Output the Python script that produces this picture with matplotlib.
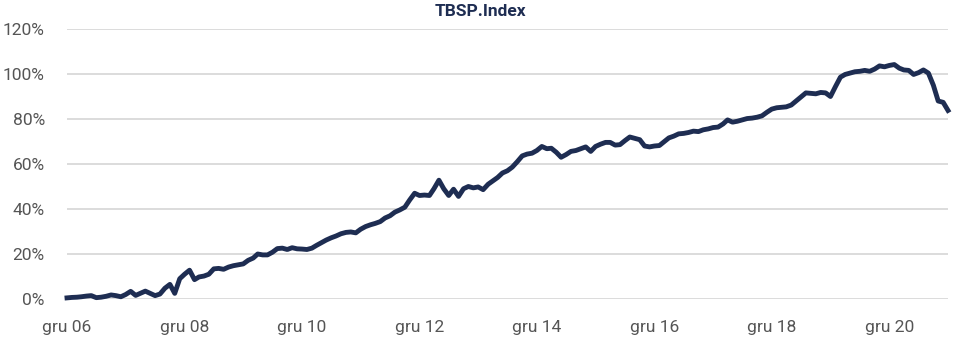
import matplotlib
matplotlib.use("Agg")
import matplotlib.pyplot as plt
import pandas as pd
import numpy as np

title = "TBSP.Index"
start_month = "2006-12-01"
values = [
    0.5, 0.7, 0.8, 1.0, 1.3, 1.5, 0.6, 0.8, 1.2, 1.8, 1.5,
    1.0, 2.0, 3.4, 1.6, 2.5, 3.5, 2.5, 1.5, 2.2, 4.8,
    6.5, 2.5, 9.0, 11.0, 12.8, 8.6, 9.8, 10.2, 11.0, 13.4,
    13.6, 13.2, 14.2, 14.8, 15.2, 15.6, 17.2, 18.2, 20.0, 19.6,
    19.6, 20.8, 22.4, 22.6, 22.0, 22.8, 22.3, 22.2, 22.0, 22.6,
    23.8, 25.0, 26.2, 27.2, 28.0, 29.0, 29.6, 29.8, 29.4, 31.0,
    32.2, 33.0, 33.6, 34.4, 36.0, 37.0, 38.6, 39.6, 40.8, 44.0,
    47.0, 46.0, 46.2, 46.0, 49.0, 52.8, 49.0, 46.0, 48.8, 45.6,
    49.0, 50.0, 49.4, 49.8, 48.6, 51.0, 52.4, 54.0, 56.0, 57.0,
    58.6, 61.0, 63.6, 64.4, 64.8, 66.0, 67.8, 66.8, 67.0, 65.2,
    63.0, 64.2, 65.6, 66.0, 66.8, 67.6, 65.6, 67.8, 68.8, 69.6,
    69.6, 68.4, 68.6, 70.4, 72.0, 71.4, 70.8, 68.0, 67.6, 68.0,
    68.2, 70.0, 71.6, 72.4, 73.4, 73.6, 74.0, 74.6, 74.4, 75.2,
    75.6, 76.2, 76.4, 77.8, 79.6, 78.6, 79.0, 79.6, 80.2, 80.4,
    80.8, 81.4, 83.0, 84.4, 85.0, 85.2, 85.4, 86.2, 88.0, 89.8,
    91.6, 91.4, 91.2, 91.8, 91.6, 90.0, 94.4, 98.6, 99.8, 100.4,
    101.0, 101.2, 101.6, 101.2, 102.2, 103.6, 103.2, 103.8, 104.2, 102.6,
    101.8, 101.6, 99.8, 100.6, 101.8, 100.4, 95.0, 88.0, 87.4, 83.8,
]
tick_dates = ["2006-12-01", "2008-12-01", "2010-12-01", "2012-12-01",
              "2014-12-01", "2016-12-01", "2018-12-01", "2020-12-01"]
tick_labels = ["gru 06", "gru 08", "gru 10", "gru 12",
               "gru 14", "gru 16", "gru 18", "gru 20"]
y_ticks = [0, 20, 40, 60, 80, 100, 120]
y_labels = ["0%", "20%", "40%", "60%", "80%", "100%", "120%"]

dates = pd.date_range(start_month, periods=len(values), freq="MS")

plt.rcParams["font.family"] = ["Roboto", "DejaVu Sans"]

fig = plt.figure(figsize=(9.6, 3.57), dpi=100)
ax = fig.add_axes([67/960, 1-299/357, (948-67)/960, (299-29)/357])

navy = "#1e2d52"
ax.plot(dates, values, color=navy, lw=3.5, solid_joinstyle="round", clip_on=False, zorder=3)

ax.set_xlim(dates[0], dates[-1])
ax.set_ylim(0, 120)
ax.set_yticks(y_ticks)
ax.set_yticklabels(y_labels)
ax.set_xticks(pd.to_datetime(tick_dates))
ax.set_xticklabels(tick_labels)
ax.grid(axis="y", color="#d9d9d9", lw=1.3)
ax.set_axisbelow(True)
for s in ax.spines.values():
    s.set_visible(False)
ax.tick_params(axis="both", length=0, labelsize=12.5, labelcolor="#555555")
ax.tick_params(axis="y", pad=16)
ax.tick_params(axis="x", pad=15)

fig.text(0.5, 1-12/357, title, ha="center", va="center", fontsize=12.5,
         fontweight="bold", color=navy)

fig.savefig("out.png", dpi=100)
